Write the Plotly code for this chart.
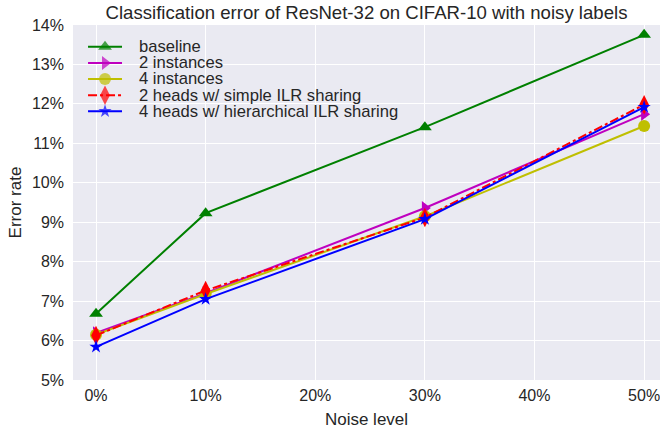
import plotly.graph_objects as go

noise = [0, 10, 30, 50]
baseline = [6.68, 9.23, 11.41, 13.75]
inst2 = [6.19, 7.20, 9.36, 11.74]
inst4 = [6.15, 7.18, 9.15, 11.44]
heads2 = [6.13, 7.27, 9.12, 11.98]
heads4 = [5.84, 7.05, 9.08, 11.92]

xticks = [0, 10, 20, 30, 40, 50]
yticks = [5, 6, 7, 8, 9, 10, 11, 12, 13, 14]

names = ["baseline", "2 instances", "4 instances",
         "2 heads w/ simple ILR sharing", "4 heads w/ hierarchical ILR sharing"]
values = [baseline, inst2, inst4, heads2, heads4]
colors = ["#008000", "#BF00BF", "#BFBF00", "#FF0000", "#0000FF"]
symbols = ["triangle-up", "triangle-right", "circle", "diamond-tall", "star"]
dashes = ["solid", "solid", "solid", "dashdot", "solid"]
msizes = [12, 12, 12, 14, 10]

font = "Liberation Sans, Arial, sans-serif"
txt = "#262626"

fig = go.Figure()
for name, vals, col, sym, dash, ms in zip(names, values, colors, symbols, dashes, msizes):
    fig.add_trace(go.Scatter(
        x=noise, y=vals, name=name, mode="lines+markers", showlegend=False,
        line=dict(color=col, width=2, dash=dash),
        marker=dict(symbol=sym, size=ms, color=col, line=dict(width=0)),
    ))

# manual legend (compact, matplotlib-like) on an overlay axis in plot-fraction units
leg_x0, leg_x1, leg_xt = 0.0256, 0.0835, 0.109
leg_rows = [0.939, 0.893, 0.848, 0.802, 0.757]
annotations = []
for i, (name, col, sym, dash, ms) in enumerate(zip(names, colors, symbols, dashes, msizes)):
    ry = leg_rows[i]
    fig.add_trace(go.Scatter(
        x=[leg_x0, (leg_x0 + leg_x1) / 2, leg_x1], y=[ry, ry, ry],
        xaxis="x2", yaxis="y2", mode="lines+markers", showlegend=False,
        hoverinfo="skip",
        line=dict(color=col, width=2, dash=dash),
        marker=dict(symbol=sym, size=[0, ms, 0], color=col, line=dict(width=0)),
    ))
    annotations.append(dict(
        x=leg_xt, y=ry, xref="x2", yref="y2", text=name, showarrow=False,
        xanchor="left", yanchor="middle", font=dict(size=16.6, color=txt, family=font),
    ))

fig.update_layout(
    width=660, height=429,
    margin=dict(l=73, r=0, t=25, b=49),
    paper_bgcolor="white", plot_bgcolor="#EAEAF2",
    font=dict(family=font, size=16, color=txt),
    title=dict(text="Classification error of ResNet-32 on CIFAR-10 with noisy labels",
               x=0.5, xref="paper", y=1 - 12 / 429, yanchor="middle", xanchor="center",
               font=dict(size=18.6, color=txt)),
    showlegend=False,
    annotations=annotations,
    xaxis=dict(range=[-2.1, 51.45], tickvals=xticks,
               ticktext=[f"{v}%" for v in xticks],
               showgrid=True, gridcolor="white", gridwidth=1.4, zeroline=False,
               showline=False, ticks="", tickfont=dict(size=16, color=txt),
               ticklabelstandoff=4, ticklabeloverflow="allow",
               title=dict(text="Noise level", font=dict(size=17), standoff=10)),
    yaxis=dict(range=[5, 14], tickvals=yticks,
               ticktext=[f"{v}%" for v in yticks],
               showgrid=True, gridcolor="white", gridwidth=1.4, zeroline=False,
               showline=False, ticks="", tickfont=dict(size=16, color=txt),
               ticklabelstandoff=8, ticklabeloverflow="allow",
               title=dict(text="Error rate", font=dict(size=17), standoff=6)),
    xaxis2=dict(range=[0, 1], overlaying="x", visible=False, fixedrange=True),
    yaxis2=dict(range=[0, 1], overlaying="y", visible=False, fixedrange=True),
)

fig.write_html("out.html", config={"displayModeBar": False},
               post_script="document.body.style.margin='0';")
